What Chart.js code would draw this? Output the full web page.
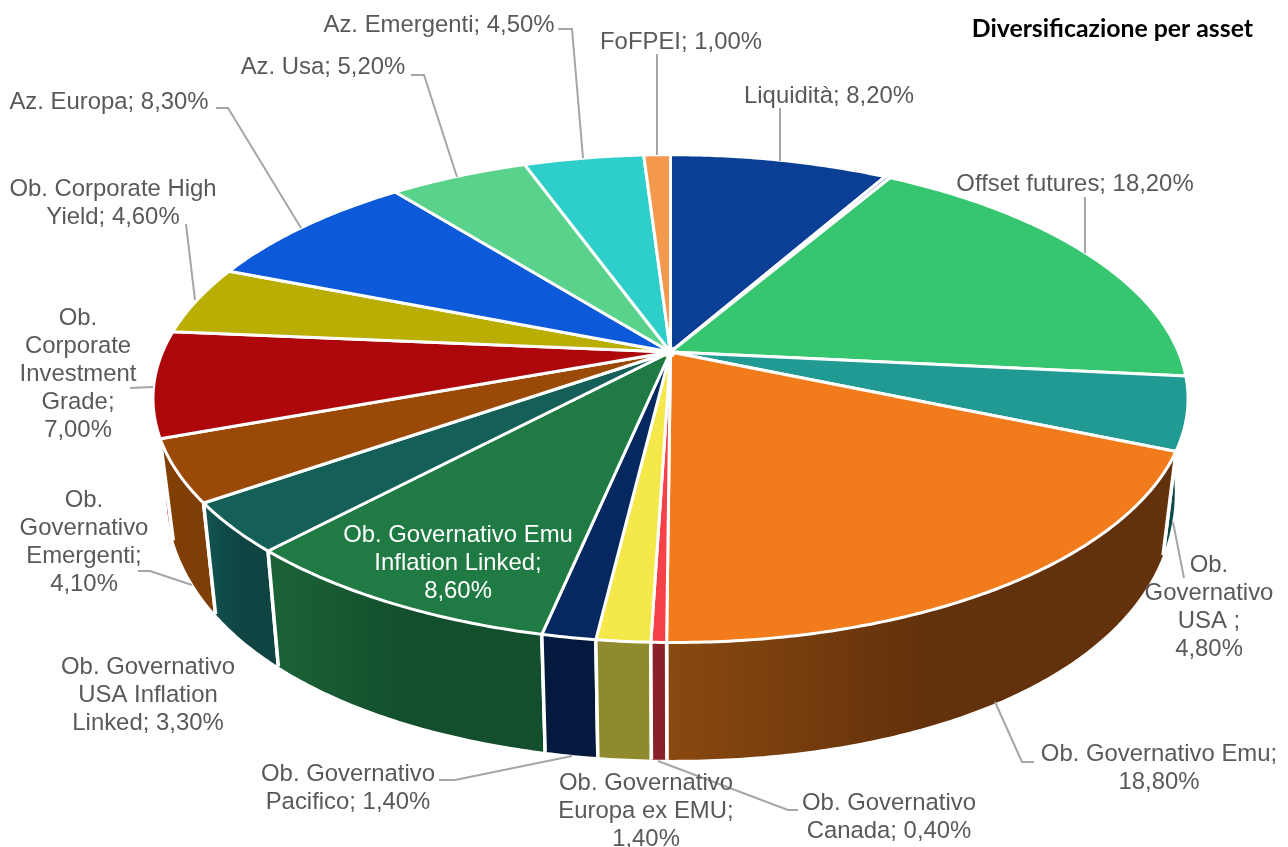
<!DOCTYPE html>
<html lang="it">
<head>
<meta charset="utf-8">
<title>Diversificazione per asset</title>
<script src="https://cdn.jsdelivr.net/npm/chart.js@4"></script>
<style>
  html, body { margin: 0; background: #fff; }
  #wrap { position: relative; width: 1288px; height: 847px; }
</style>
</head>
<body>
<div id="wrap"><canvas id="myChart"></canvas></div>
<script>
const categories = [
  'Liquidità', 'Altro', 'Offset futures', 'Ob.\nGovernativo\nUSA ', 'Ob. Governativo Emu',
  'Ob. Governativo\nCanada', 'Ob. Governativo\nEuropa ex EMU', 'Ob. Governativo\nPacifico',
  'Ob. Governativo Emu\nInflation Linked', 'Ob. Governativo\nUSA Inflation\nLinked',
  'Ob.\nGovernativo\nEmergenti', 'Ob.\nCorporate\nInvestment\nGrade', 'Ob. Corporate High\nYield',
  'Az. Europa', 'Az. Usa', 'Az. Emergenti', 'FoFPEI'
]
const weights = [8.2, 0.2, 18.2, 4.8, 18.8, 0.4, 1.4, 1.4, 8.6, 3.3, 4.1, 7.0, 4.6, 8.3, 5.2, 4.5, 1.0]

const topColors = ['#0a3f95', '#8fa3d8', '#35c66f', '#229a94', '#f27c1c', '#f64149', '#f5e84a', '#04285f',
  '#1f7a43', '#155f59', '#9a4a06', '#ad070b', '#baae03', '#0c5ad9', '#59d38b', '#2ecfca', '#f4984d']
const wallFrom = ['#06285f', '#5a6688', '#227f47', '#0d4a48', '#8a4a10', '#8a2128', '#8f8a2e', '#03193e',
  '#1b6337', '#115550', '#823f05', '#8a0509', '#77700a', '#083a8b', '#398759', '#1d8481', '#9c6131']
const wallTo = ['#06285f', '#5a6688', '#227f47', '#0d4a48', '#63310b', '#8a2128', '#8f8a2e', '#03193e',
  '#134f2d', '#0f4443', '#7f3e05', '#8a0509', '#77700a', '#083a8b', '#398759', '#1d8481', '#9c6131']

// perspective of the disc: apex, radii and foreshortening for the top face and the bottom rim
const TOP = { cx: 670.5, cy: 352, rx: 508, ry: 235, kx: 0.191, ky: 0.191 }
const BOTTOM = { cx: 670.5, cy: 433, rx: 495, ry: 304, kx: 0.191, ky: 0.07 }
const FRONT_DRIFT = 4

// label placement, one row per slice, null when the slice has no label
const labelPlaces = [
  { x: 829, y: 96, line: [[780, 108], [780, 161]] },
  null,
  { x: 1075, y: 184, line: [[1085, 197], [1085, 253]] },
  { x: 1209, y: 565, split: true, line: [[1173, 522], [1184, 578]] },
  { x: 1159, y: 754, split: true, line: [[995, 702], [1022, 762], [1034, 762]] },
  { x: 889, y: 803, line: [[658, 761], [788, 810], [798, 810]] },
  { x: 646, y: 783, split: true },
  { x: 348, y: 774, line: [[439, 780], [455, 780], [572, 756]] },
  { x: 458, y: 535, split: true, color: '#fff' },
  { x: 148, y: 667 },
  { x: 84, y: 500, split: true, line: [[138, 571], [150, 571], [192, 585]] },
  { x: 78, y: 318, split: true, line: [[130, 388], [153, 387]] },
  { x: 113, y: 189, line: [[186, 224], [195, 300]] },
  { x: 109, y: 102, line: [[216, 108], [228, 108], [301, 228]] },
  { x: 323, y: 67, line: [[411, 75], [424, 75], [457, 177]] },
  { x: 439, y: 25, line: [[558, 29], [572, 29], [583, 158]] },
  { x: 681, y: 42, line: [[657, 54], [657, 155]] }
]

function project(p, a) {
  const u = Math.cos(a), v = Math.sin(a)
  const drift = v > 0 ? FRONT_DRIFT * v * v * v : 0
  return [p.cx + drift + p.rx * u / (1 - p.kx * v), p.cy + p.ry * v / (1 - p.ky * v)]
}

function rimPoints(p, start, end) {
  const steps = Math.max(2, Math.ceil((end - start) / 0.01))
  const pts = []
  for (let i = 0; i <= steps; i++) pts.push(project(p, start + (end - start) * i / steps))
  return pts
}

function tracePath(ctx, pts) {
  ctx.beginPath()
  pts.forEach((pt, i) => i ? ctx.lineTo(pt[0], pt[1]) : ctx.moveTo(pt[0], pt[1]))
  ctx.closePath()
}

// the library works out the slice angles, this paints them on the tilted disc
const tiltedPie = {
  id: 'tiltedPie',
  beforeDatasetDraw(chart) {
    const ctx = chart.ctx
    const arcs = chart.getDatasetMeta(0).data

    // side walls of the front half only, outer slices first
    const order = arcs.map((arc, i) => i).sort((a, b) => {
      const mid = arc => Math.sin((arc.startAngle + arc.endAngle) / 2)
      return mid(arcs[a]) - mid(arcs[b])
    })
    ctx.save()
    ctx.lineJoin = 'round'
    order.forEach(i => {
      const arc = arcs[i]
      const start = Math.max(arc.startAngle, 0)
      const end = Math.min(arc.endAngle, Math.PI)
      if (end <= start) return
      const upper = rimPoints(TOP, start, end)
      const lower = rimPoints(BOTTOM, start, end)
      const pts = upper.concat(lower.slice().reverse())
      const xs = pts.map(pt => pt[0])
      const grad = ctx.createLinearGradient(Math.min(...xs), 0, Math.max(...xs), 0)
      grad.addColorStop(0, wallFrom[i])
      grad.addColorStop(0.5, wallTo[i])
      grad.addColorStop(1, wallTo[i])
      tracePath(ctx, pts)
      ctx.fillStyle = grad
      ctx.fill()
      ctx.strokeStyle = '#fff'
      ctx.lineWidth = 3.5
      ctx.beginPath()
      ctx.moveTo(upper[0][0], upper[0][1])
      ctx.lineTo(lower[0][0], lower[0][1])
      ctx.moveTo(upper[upper.length - 1][0], upper[upper.length - 1][1])
      ctx.lineTo(lower[lower.length - 1][0], lower[lower.length - 1][1])
      ctx.stroke()
    })

    // top face
    arcs.forEach((arc, i) => {
      const pts = [[TOP.cx, TOP.cy]].concat(rimPoints(TOP, arc.startAngle, arc.endAngle))
      tracePath(ctx, pts)
      ctx.fillStyle = topColors[i]
      ctx.fill()
      ctx.strokeStyle = '#fff'
      ctx.lineWidth = 3
      ctx.stroke()
    })

    // the separators run together at the apex
    ctx.fillStyle = '#fff'
    ctx.beginPath()
    ctx.arc(TOP.cx - 1, TOP.cy, 6, 0, Math.PI * 2)
    ctx.fill()
    ctx.restore()
    return false
  },
  afterDatasetsDraw(chart) {
    const ctx = chart.ctx
    ctx.save()
    ctx.font = '23.9px "Liberation Sans"'
    ctx.textAlign = 'center'
    ctx.textBaseline = 'middle'
    labelPlaces.forEach((place, i) => {
      if (!place) return
      if (place.line) {
        ctx.strokeStyle = '#a6a6a6'
        ctx.lineWidth = 2
        ctx.beginPath()
        place.line.forEach((pt, n) => n ? ctx.lineTo(pt[0], pt[1]) : ctx.moveTo(pt[0], pt[1]))
        ctx.stroke()
      }
      const pct = weights[i].toFixed(2).replace('.', ',') + '%'
      const text = categories[i] + ';' + (place.split ? '\n' : ' ') + pct
      ctx.fillStyle = place.color || '#595959'
      text.split('\n').forEach((row, n) => ctx.fillText(row, place.x, place.y + n * 28))
    })
    ctx.restore()
  }
}

let ctx = document.getElementById('myChart')

let myChart = new Chart(ctx, {
  type: 'pie',
  data: {
    labels: categories,
    datasets: [{ data: weights, backgroundColor: topColors }]
  },
  options: {
    responsive: true,
    maintainAspectRatio: false,
    animation: false,
    layout: { padding: { right: 35, top: 0 } },
    plugins: {
      legend: { display: false },
      tooltip: { enabled: false },
      title: {
        display: true,
        text: 'Diversificazione per asset',
        align: 'end',
        color: '#000',
        font: { family: 'Lato', size: 24.8, weight: 'bold' },
        padding: { top: 14, bottom: 0 }
      }
    }
  },
  plugins: [tiltedPie]
})
</script>
</body>
</html>
